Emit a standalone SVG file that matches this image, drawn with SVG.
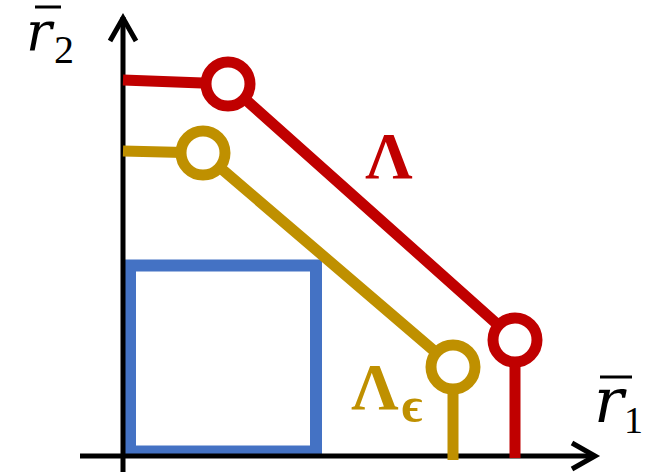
<svg xmlns="http://www.w3.org/2000/svg" width="672" height="475" viewBox="0 0 672 475">
<style>
.ax{stroke:#000;stroke-width:5;fill:none}
.red{stroke:#C00000;stroke-width:11;fill:none}
.gold{stroke:#BF9000;stroke-width:11;fill:none}
.ring{fill:#fff;stroke-width:11}
.lab{font-family:"Liberation Serif","DejaVu Serif",serif}
.var{font-family:"DejaVu Serif","Liberation Serif",serif;font-style:italic}
</style>
<rect width="672" height="475" fill="#fff"/>
<g id="region">
<rect x="130" y="265.5" width="186" height="186" fill="none" stroke="#4472C4" stroke-width="12"/>
</g>
<g id="axes">
<line class="ax" x1="123" y1="472" x2="123" y2="17"/>
<polyline class="ax" points="110,41 123,18 136,41"/>
<line class="ax" x1="80" y1="456" x2="595" y2="456"/>
<polyline class="ax" points="572,443 595,456 572,469"/>
</g>
<g id="connectors">
<polyline class="red" points="123,80 228,84 515,340 515,458"/>
<polyline class="gold" points="123,151 203,153 453,367 453,460"/>
</g>
<g id="node-red-1"><circle class="ring" cx="228" cy="84" r="22" stroke="#C00000"/></g>
<g id="node-red-2"><circle class="ring" cx="515" cy="340" r="22" stroke="#C00000"/></g>
<g id="node-gold-1"><circle class="ring" cx="203" cy="153" r="22" stroke="#BF9000"/></g>
<g id="node-gold-2"><circle class="ring" cx="453" cy="367" r="22" stroke="#BF9000"/></g>
<g id="labels">
<text class="lab" x="389" y="178" font-size="66" font-weight="bold" fill="#C00000" text-anchor="middle">Λ</text>
<text class="lab" x="375" y="409" font-size="66" font-weight="bold" fill="#BF9000" text-anchor="middle">Λ</text>
<text class="lab" x="412" y="422" font-size="50" font-weight="bold" fill="#BF9000" text-anchor="middle">ϵ</text>
<text class="var" x="26" y="50" font-size="54" fill="#000">r</text>
<line x1="35" y1="7" x2="61" y2="7" stroke="#000" stroke-width="3"/>
<text class="lab" x="54" y="63" font-size="40" fill="#000">2</text>
<text class="var" x="594" y="422" font-size="62" fill="#000">r</text>
<line x1="600" y1="377" x2="632" y2="377" stroke="#000" stroke-width="3"/>
<text class="lab" x="624" y="433" font-size="38" fill="#000">1</text>
</g>
</svg>
